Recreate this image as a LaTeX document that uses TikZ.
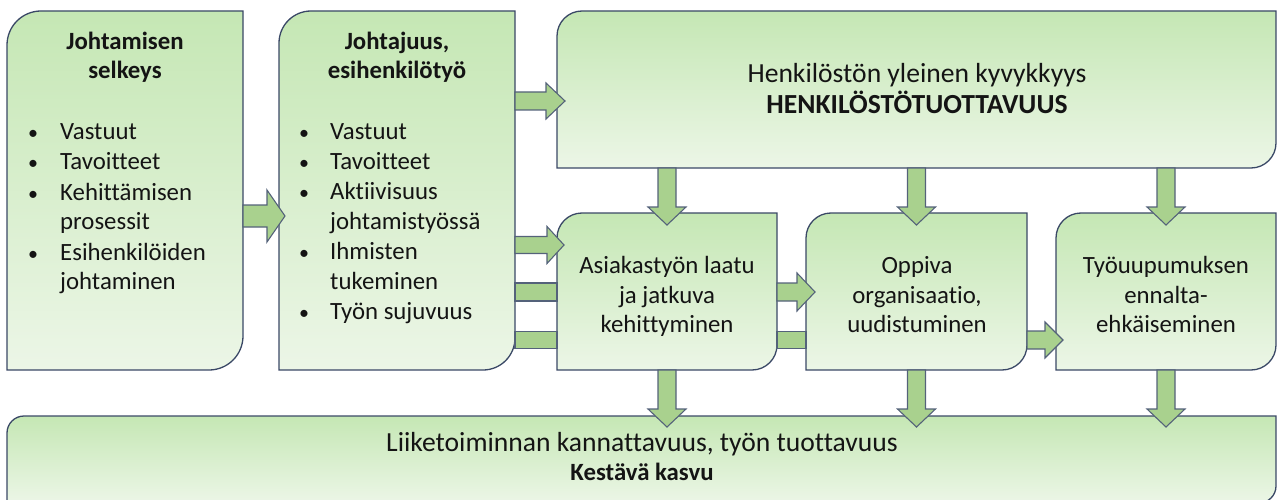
\documentclass[tikz,border=0pt]{standalone}
\usepackage{fontspec}
\setmainfont{Carlito}[Ligatures=NoCommon]
\usetikzlibrary{calc}

\definecolor{edge}{RGB}{58,72,102}
\definecolor{gtop}{RGB}{197,231,180}
\definecolor{gbot}{RGB}{236,246,231}
\definecolor{arrowfill}{RGB}{169,209,142}
\definecolor{arrowedge}{RGB}{84,98,122}
\definecolor{ink}{RGB}{20,20,20}

\tikzset{
  area/.style={draw=none, fill=none, rectangle, inner sep=0pt, outer sep=0pt, anchor=north west},
  panel/.style={draw=edge, line width=1.3pt, top color=gtop, bottom color=gbot},
  fat/.style={draw=arrowedge, line width=1.1pt, fill=arrowfill, line join=miter},
  txt/.style={inner sep=0pt, anchor=base, text=ink, font=\fontsize{24.8}{29}\selectfont},
  head/.style={txt, font=\fontsize{24.8}{29}\selectfont\bfseries},
  big/.style={txt, font=\fontsize{27.6}{31}\selectfont},
  bighead/.style={txt, font=\fontsize{27.6}{31}\selectfont\bfseries},
  item/.style={txt, anchor=base west},
  dot/.style={txt, font=\fontsize{20}{29}\selectfont},
}

% panel with rounded top-left and bottom-right corners
\newcommand{\panelshape}[2]{%
  \path[panel] (#1.south west) -- ($(#1.north west)+(0,#2)$)
    arc[start angle=180, end angle=270, radius=#2]
    -- (#1.north east) -- ($(#1.south east)-(0,#2)$)
    arc[start angle=0, end angle=90, radius=#2] -- cycle;}

% block arrow: tail, tip, shaft half width, head half width, head length
\newcommand{\fatarrow}[5]{%
  \coordinate (hb) at ($(#2)!#5pt!(#1)$);
  \path[fat] ($(#1)!#3pt!90:(#2)$) -- ($(hb)!#3pt!90:(#2)$) -- ($(hb)!#4pt!90:(#2)$)
    -- (#2) -- ($(hb)!#4pt!-90:(#2)$) -- ($(hb)!#3pt!-90:(#2)$)
    -- ($(#1)!#3pt!-90:(#2)$) -- cycle;}

% plain bar between two points
\newcommand{\fatbar}[3]{%
  \path[fat] ($(#1)!#3pt!90:(#2)$) -- ($(#2)!#3pt!-90:(#1)$)
    -- ($(#2)!#3pt!90:(#1)$) -- ($(#1)!#3pt!-90:(#2)$) -- cycle;}

\begin{document}
\begin{tikzpicture}[x=1pt, y=-1pt]
\useasboundingbox (0,0) rectangle (1277,500);
\clip (0,0) rectangle (1277,500);

% box areas
\node[area, minimum width=236pt, minimum height=359pt] (b1) at (7,11) {};
\node[area, minimum width=236pt, minimum height=359pt] (b2) at (279,11) {};
\node[area, minimum width=719pt, minimum height=157pt] (b3) at (557,11) {};
\node[area, minimum width=220pt, minimum height=157pt] (b4) at (557,213) {};
\node[area, minimum width=221pt, minimum height=157pt] (b5) at (806,213) {};
\node[area, minimum width=220pt, minimum height=157pt] (b6) at (1056,213) {};
\node[area, minimum width=1269pt, minimum height=87pt] (b7) at (7,416) {};

\panelshape{b1}{34}
\panelshape{b2}{32}
\panelshape{b3}{25}
\panelshape{b4}{25}
\panelshape{b5}{25}
\panelshape{b6}{25}
\panelshape{b7}{17}

% horizontal connectors
\coordinate (c12t) at (b1.east |- 0,216);
\coordinate (c12h) at ($(b2.west |- 0,216)+(6,0)$);
\fatarrow{c12t}{c12h}{11}{26}{18}

\coordinate (c23t) at (b2.east |- 0,101);
\coordinate (c23h) at ($(b3.west |- 0,101)+(8,0)$);
\fatarrow{c23t}{c23h}{9}{18}{19}

\coordinate (c24t) at (b2.east |- 0,245);
\coordinate (c24h) at ($(b4.west |- 0,245)+(7,0)$);
\fatarrow{c24t}{c24h}{8.5}{18.5}{17}

\coordinate (c24at) at (b2.east |- 0,292);
\coordinate (c24ah) at (b4.west |- 0,292);
\fatbar{c24at}{c24ah}{9}
\coordinate (c24bt) at (b2.east |- 0,340);
\coordinate (c24bh) at (b4.west |- 0,340);
\fatbar{c24bt}{c24bh}{8.5}

\coordinate (c45t) at (b4.east |- 0,292);
\coordinate (c45h) at ($(b5.west |- 0,292)+(9,0)$);
\fatarrow{c45t}{c45h}{9}{19}{18}
\coordinate (c45bt) at (b4.east |- 0,340);
\coordinate (c45bh) at (b5.west |- 0,340);
\fatbar{c45bt}{c45bh}{8.5}

\coordinate (c56t) at (b5.east |- 0,340);
\coordinate (c56h) at ($(b6.west |- 0,340)+(7,0)$);
\fatarrow{c56t}{c56h}{9}{18}{18}

% vertical connectors
\foreach \bx in {b4,b5,b6}{
  \coordinate (d3t) at (\bx.north |- b3.south);
  \coordinate (d3h) at ($(\bx.north)+(0,12)$);
  \fatarrow{d3t}{d3h}{9}{19}{18}
  \coordinate (d7t) at (\bx.south);
  \coordinate (d7h) at ($(\bx.south |- b7.north)+(0,11)$);
  \fatarrow{d7t}{d7h}{9}{19}{18}
}

% texts: first column
\node[head] (h1a) at (125,50) {Johtamisen};
\node[head] (h1b) at (125,79) {selkeys};
\node[dot] (p1a) at (33,140) {•};
\node[item] (i1a) at (60,140) {Vastuut};
\node[dot] (p1b) at (33,169) {•};
\node[item] (i1b) at (60,169) {Tavoitteet};
\node[dot] (p1c) at (33,200) {•};
\node[item] (i1c) at (60,200) {Kehittämisen};
\node[item] (i1d) at (60,229) {prosessit};
\node[dot] (p1e) at (33,260) {•};
\node[item] (i1e) at (60,260) {Esihenkilöiden};
\node[item] (i1f) at (60,289) {johtaminen};

% second column
\node[head] (h2a) at (397,50) {Johtajuus,};
\node[head] (h2b) at (397,79) {esihenkilötyö};
\node[dot] (p2a) at (304,140) {•};
\node[item] (i2a) at (330,140) {Vastuut};
\node[dot] (p2b) at (304,169) {•};
\node[item] (i2b) at (330,169) {Tavoitteet};
\node[dot] (p2c) at (304,199) {•};
\node[item] (i2c) at (330,199) {Aktiivisuus};
\node[item] (i2d) at (330,229) {johtamistyössä};
\node[dot] (p2e) at (304,259) {•};
\node[item] (i2e) at (330,259) {Ihmisten};
\node[item] (i2f) at (330,289) {tukeminen};
\node[dot] (p2g) at (304,319) {•};
\node[item] (i2g) at (330,319) {Työn sujuvuus};

% top right
\node[big] (t3a) at (917,83) {Henkilöstön yleinen kyvykkyys};
\node[bighead] (t3b) at (917,114) {HENKILÖSTÖTUOTTAVUUS};

% middle row
\node[txt] (t4a) at (667,273) {Asiakastyön laatu};
\node[txt] (t4b) at (667,303) {ja jatkuva};
\node[txt] (t4c) at (667,332) {kehittyminen};
\node[txt] (t5a) at (917,273) {Oppiva};
\node[txt] (t5b) at (917,303) {organisaatio,};
\node[txt] (t5c) at (917,332) {uudistuminen};
\node[txt] (t6a) at (1166,273) {Työuupumuksen};
\node[txt] (t6b) at (1166,303) {ennalta-};
\node[txt] (t6c) at (1166,332) {ehkäiseminen};

% bottom
\node[big] (t7a) at (642,451) {Liiketoiminnan kannattavuus, työn tuottavuus};
\node[head] (t7b) at (642,480) {Kestävä kasvu};
\end{tikzpicture}
\end{document}
